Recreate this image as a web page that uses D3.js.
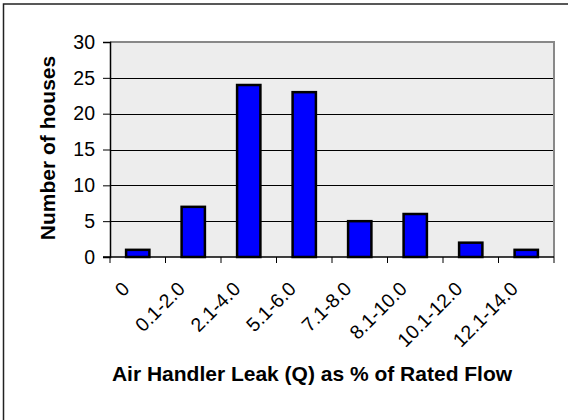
<!DOCTYPE html>
<html>
<head>
<meta charset="utf-8">
<script src="https://cdn.jsdelivr.net/npm/d3@7.9.0/dist/d3.min.js"></script>
<style>
  body { margin: 0; background: #fff; }
  svg { display: block; font-family: "Liberation Sans", Arial, sans-serif; }
</style>
</head>
<body>
<svg id="chart" width="568" height="420"></svg>
<script>
const categories = ["0", "0.1-2.0", "2.1-4.0", "5.1-6.0", "7.1-8.0", "8.1-10.0", "10.1-12.0", "12.1-14.0"];
const houses = [1, 7, 24, 23, 5, 6, 2, 1];
const yTicks = [0, 5, 10, 15, 20, 25, 30];

const svg = d3.select("#chart");
const plot = { left: 110, right: 554, top: 42, bottom: 257 };

// outer chart frame (only top and left edges show in the picture)
svg.append("path")
  .attr("d", "M3.5,420V4H568")
  .attr("fill", "none")
  .attr("stroke", "#222")
  .attr("stroke-width", 1.5);

const x = d3.scaleBand()
  .domain(categories)
  .range([plot.left, plot.right])
  .paddingInner(0.58)
  .paddingOuter(0.29);

const xEdges = d3.scaleBand().domain(categories).range([plot.left, plot.right]);

const y = d3.scaleLinear().domain([0, 30]).range([plot.bottom, plot.top]);

svg.append("rect")
  .attr("x", plot.left)
  .attr("y", plot.top)
  .attr("width", plot.right - plot.left)
  .attr("height", plot.bottom - plot.top)
  .attr("fill", "#ededed");

// gridlines
svg.append("g")
  .selectAll("line")
  .data(yTicks.filter((d) => d > 0 && d < 30))
  .join("line")
  .attr("x1", plot.left)
  .attr("x2", plot.right)
  .attr("y1", (d) => Math.round(y(d)) + 0.5)
  .attr("y2", (d) => Math.round(y(d)) + 0.5)
  .attr("stroke", "#000")
  .attr("stroke-width", 1);

// grey border top + right
svg.append("path")
  .attr("d", `M${plot.left},${plot.top}H${plot.right}V${plot.bottom}`)
  .attr("fill", "none")
  .attr("stroke", "#888")
  .attr("stroke-width", 2);

// bars
svg.append("g")
  .selectAll("rect")
  .data(houses)
  .join("rect")
  .attr("x", (d, i) => x(categories[i]))
  .attr("width", x.bandwidth())
  .attr("y", (d) => y(d))
  .attr("height", (d) => y(0) - y(d))
  .attr("fill", "#0000ff")
  .attr("stroke", "#000")
  .attr("stroke-width", 2.5);

// y axis
const yAxis = svg.append("g")
  .attr("transform", `translate(${plot.left},0)`)
  .call(d3.axisLeft(y).tickValues(yTicks).tickSize(7).tickPadding(8));
yAxis.select(".domain").attr("stroke", "#000").attr("stroke-width", 1.5);
yAxis.selectAll(".tick line").attr("stroke", "#000");
yAxis.selectAll("text")
  .attr("font-size", 19.5)
  .attr("font-family", "Liberation Sans, Arial, sans-serif")
  .attr("fill", "#000");

// x axis
const xAxisG = svg.append("g").attr("transform", `translate(0,${plot.bottom})`);
xAxisG.append("line")
  .attr("x1", plot.left - 7)
  .attr("x2", plot.right)
  .attr("stroke", "#000")
  .attr("stroke-width", 1.5);
xAxisG.selectAll(".xtick")
  .data(categories.map((c) => xEdges(c)).concat([plot.right]))
  .join("line")
  .attr("class", "xtick")
  .attr("x1", (d) => d)
  .attr("x2", (d) => d)
  .attr("y1", 0)
  .attr("y2", 6)
  .attr("stroke", "#000");

svg.append("g")
  .selectAll("text")
  .data(categories)
  .join("text")
  .attr("transform", (d) => `translate(${xEdges(d) + xEdges.bandwidth() / 2 - 7},290) rotate(-45)`)
  .attr("text-anchor", "end")
  .attr("font-size", 19.5)
  .attr("fill", "#000")
  .text((d) => d);

// axis titles
svg.append("text")
  .attr("transform", "translate(55,148) rotate(-90)")
  .attr("text-anchor", "middle")
  .attr("font-size", 21)
  .attr("font-weight", "bold")
  .text("Number of houses");

svg.append("text")
  .attr("x", 312)
  .attr("y", 381)
  .attr("text-anchor", "middle")
  .attr("font-size", 21)
  .attr("font-weight", "bold")
  .text("Air Handler Leak (Q) as % of Rated Flow");
</script>
</body>
</html>
